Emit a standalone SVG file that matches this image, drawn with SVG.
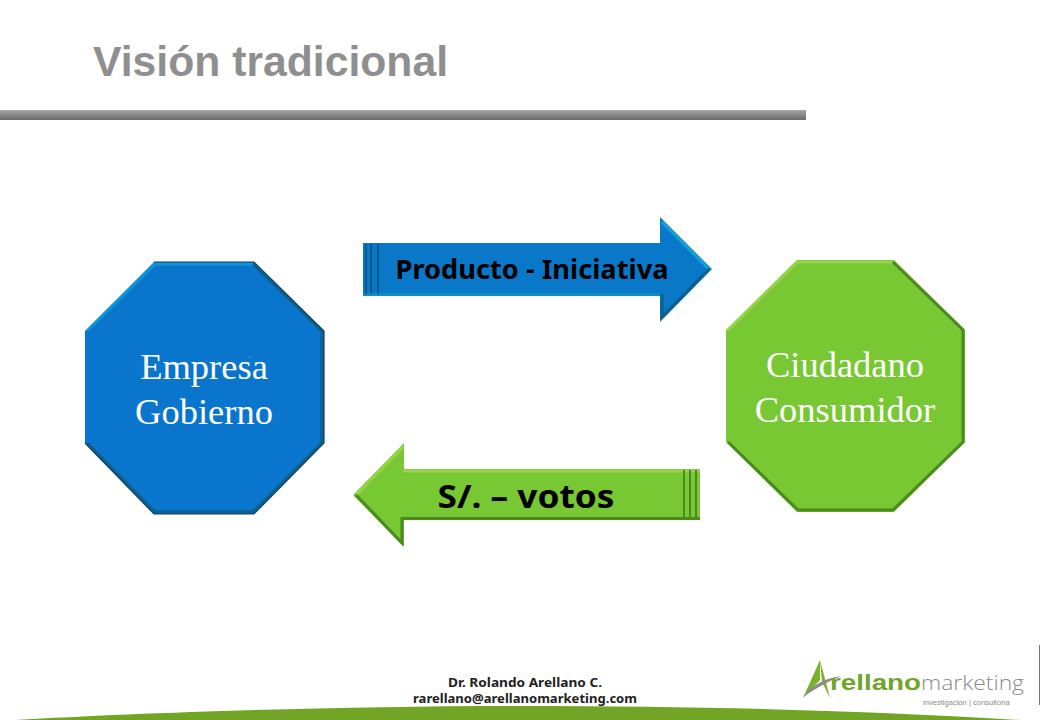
<svg xmlns="http://www.w3.org/2000/svg" width="1040" height="720" viewBox="0 0 1040 720">
<defs>
<style>
.t{font-family:"Liberation Serif","Times New Roman",serif;font-size:36.5px;fill:#fff;text-anchor:middle}
.a{font-family:"Noto Sans","DejaVu Sans",sans-serif;font-weight:700;fill:#000;text-anchor:middle}
.f{font-family:"Noto Sans","DejaVu Sans",sans-serif;font-weight:700;font-size:12px;fill:#222;text-anchor:middle}
.hb{fill:none;stroke:#0ea3dc;stroke-width:3;filter:url(#soft)}
.sb{fill:none;stroke:#0b5f8c;stroke-width:3;filter:url(#soft)}
.hg{fill:none;stroke:#9ad24e;stroke-width:3;filter:url(#soft)}
.sg{fill:none;stroke:#4c8a1f;stroke-width:3;filter:url(#soft)}
</style>
<filter id="soft" x="-5%" y="-5%" width="110%" height="110%"><feGaussianBlur stdDeviation="0.6"/></filter>
<linearGradient id="bar" x1="0" y1="0" x2="0" y2="1"><stop offset="0" stop-color="#a6a6a6"/><stop offset="1" stop-color="#6b6b6b"/></linearGradient>
</defs>
<rect width="1040" height="720" fill="#fff"/>
<g id="title">
<text x="93" y="76" font-family="'Liberation Sans',Arial,sans-serif" font-weight="700" font-size="42.700" fill="#8f8f8f">Visión tradicional</text>
<rect x="0" y="110" width="806" height="10" fill="url(#bar)"/>
</g>
<g id="empresa">
<polygon points="154,262 254,262 324,331 324,443 254,514 154,514 85,443 85,331" fill="#0a75cc"/>
<path class="hb" d="M87,331 L155,264 L253,264" opacity=".7"/>
<path class="sb" d="M253,264 L322,331 L322,443 L253,512 L155,512 L87,443" stroke="#0d3a5c"/>
<path d="M154,262 H254 L324,331 V443 L254,514 H154 L85,443" fill="none" stroke="#123f63" stroke-width="1.200"/>
<text class="t" x="204" y="379">Empresa</text>
<text class="t" x="204" y="424">Gobierno</text>
</g>
<g id="ciudadano">
<polygon points="797,260 894,260 965,330 965,442 894,512 797,512 726,442 726,330" fill="#77c832"/>
<path class="hg" d="M727,331 L797,262 L893,262"/>
<path class="sg" d="M893,262 L963,330 L963,442 L893,510 L798,510 L728,442"/>
<text class="t" x="845" y="377">Ciudadano</text>
<text class="t" x="845" y="422">Consumidor</text>
</g>
<g id="connectors">
<g id="arrow-producto">
<polygon points="363,243 660,243 660,217 712,269 660,322 660,296 363,296" fill="#0a78c8"/>
<path class="hb" d="M363,245 L660,245" stroke-width="4"/>
<path class="hb" d="M662,222 L709,269"/>
<path class="sb" d="M709,269 L662,317 L662,294"/>
<path d="M363,294.500 L660,294.500" fill="none" stroke="#0b8fc0" stroke-width="3"/>
<path d="M366,244 V294 M371,244 V294 M378,244 V294" fill="none" stroke="#075a8a" stroke-width="2"/>
<text class="a" x="532" y="279" font-size="26" textLength="273" lengthAdjust="spacingAndGlyphs">Producto - Iniciativa</text>
</g>
<g id="arrow-votos">
<polygon points="700,469 404,469 404,443 353,495 404,547 404,520 700,520" fill="#77c832"/>
<path class="hg" d="M403,471 L700,471 M403,447 L356,495"/>
<path class="sg" d="M356,495 L402,543 L402,518.500 L700,518.500"/>
<path d="M684,470 V519 M690,470 V519 M696,470 V519" fill="none" stroke="#4c8a1f" stroke-width="2"/>
<text class="a" x="526" y="508" font-size="33" textLength="177" lengthAdjust="spacingAndGlyphs">S/. – votos</text>
</g>
</g>
<g id="footer">
<path d="M15,720 C150,712 350,706 520,706 C700,706 850,710 1020,720 Z" fill="#72a525"/>
<text class="f" x="525" y="687" textLength="154" lengthAdjust="spacingAndGlyphs">Dr. Rolando  Arellano C.</text>
<text class="f" x="525" y="703" textLength="224" lengthAdjust="spacingAndGlyphs">rarellano@arellanomarketing.com</text>
<rect x="1039" y="645" width="1" height="60" fill="#777"/>
</g>
<g id="logo">
<path d="M820,660 L803,698 L820,680 Z" fill="#7ab02c"/>
<path d="M820,660 L830,698 L822,682 Z" fill="#7ab02c"/>
<path d="M803,697 Q815,680 841,676 Q822,684 803,697 Z" fill="#8b8b8b"/>
<text x="830" y="690" font-family="'Liberation Sans',Arial,sans-serif" font-weight="700" font-size="22" fill="#6ea52a" textLength="91" lengthAdjust="spacingAndGlyphs">rellano</text>
<text x="921" y="690" font-family="'Open Sans','Liberation Sans',sans-serif" font-weight="300" font-size="21" fill="#8a8a8a" textLength="103" lengthAdjust="spacingAndGlyphs">marketing</text>
<text x="923" y="705" font-family="'Liberation Sans',Arial,sans-serif" font-size="7" fill="#8a8a8a" textLength="87" lengthAdjust="spacingAndGlyphs">investigación | consultoría</text>
</g>
</svg>
